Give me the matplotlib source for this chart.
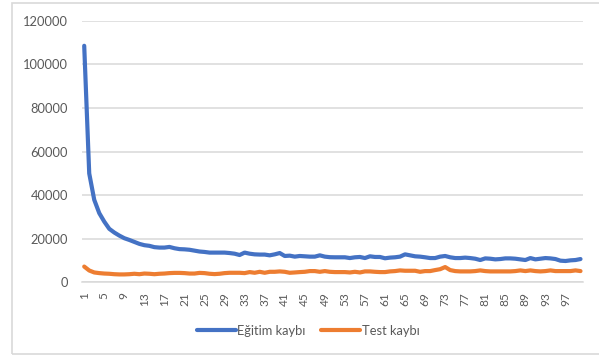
import matplotlib
matplotlib.use("Agg")
import matplotlib.pyplot as plt
from matplotlib.patches import Rectangle

plt.rcParams["font.family"] = ["Lato", "DejaVu Sans"]

epochs = list(range(1, 101))
egitim = [108500, 50000, 37900, 31800, 27900, 24600, 22900, 21500, 20300, 19500,
          18600, 17700, 17100, 16800, 16200, 16000, 16000, 16300, 15700, 15300,
          15200, 15000, 14600, 14200, 14000, 13700, 13700, 13700, 13700, 13500,
          13200, 12600, 13700, 13200, 12900, 12800, 12800, 12450, 12900, 13500,
          12150, 12300, 11850, 12150, 12000, 11850, 11850, 12450, 11850, 11600,
          11550, 11550, 11550, 11200, 11550, 11700, 11200, 12000, 11700, 11700,
          11100, 11400, 11550, 11850, 12900, 12450, 12000, 11850, 11550, 11200,
          11200, 11850, 12150, 11550, 11200, 11200, 11400, 11200, 10900, 10300,
          11050, 10900, 10600, 10750, 11050, 11050, 10900, 10600, 10300, 11200,
          10600, 10900, 11200, 11050, 10750, 10000, 9850, 10150, 10300, 10750]
test = [7300, 5500, 4600, 4300, 4100, 4000, 3800, 3700, 3700, 3800,
        4000, 3800, 4100, 4000, 3800, 4000, 4100, 4300, 4400, 4400,
        4300, 4100, 4100, 4400, 4300, 4000, 3850, 4000, 4300, 4450,
        4450, 4450, 4300, 4770, 4450, 4900, 4450, 4900, 4900, 5080,
        4900, 4450, 4600, 4770, 4900, 5230, 5230, 4900, 5230, 4900,
        4770, 4770, 4770, 4600, 4900, 4600, 5080, 5080, 4900, 4770,
        4770, 5080, 5230, 5540, 5380, 5380, 5380, 4900, 5230, 5230,
        5690, 6100, 7080, 5690, 5230, 5080, 5080, 5080, 5230, 5540,
        5230, 5080, 5080, 5080, 5080, 5080, 5230, 5540, 5230, 5540,
        5230, 5080, 5230, 5540, 5230, 5230, 5230, 5230, 5540, 5230]
yticks = [0, 20000, 40000, 60000, 80000, 100000, 120000]
xticks = list(range(1, 101, 4))

gray = "#595959"
fig = plt.figure(figsize=(5.99, 3.6), dpi=100)
ax = fig.add_axes([0.1364, 0.2153, 0.8369, 0.7272])

# chart border (cut off at the right edge like the screenshot)
fig.patches.append(Rectangle((12 / 599, 1 - 354 / 360), 1.0, 351 / 360,
                             transform=fig.transFigure, fill=False,
                             edgecolor="#D9D9D9", linewidth=1.2))

ax.plot(epochs, egitim, color="#4472C4", linewidth=3, label="Eğitim kaybı",
        solid_capstyle="round", zorder=3)
ax.plot(epochs, test, color="#ED7D31", linewidth=3, label="Test kaybı",
        solid_capstyle="round", zorder=3)

ax.set_xlim(0.5, 100.5)
ax.set_ylim(0, 120000)
ax.set_yticks(yticks)
ax.set_yticklabels([str(v) for v in yticks])
ax.set_xticks(xticks)
ax.set_xticklabels([str(v) for v in xticks], rotation=90)
ax.grid(axis="y", color="#D9D9D9", linewidth=1.1)
ax.set_axisbelow(True)
for s in ["top", "right", "left"]:
    ax.spines[s].set_visible(False)
ax.spines["bottom"].set_color("#D9D9D9")
ax.spines["bottom"].set_linewidth(1.1)
ax.tick_params(axis="y", length=0, pad=10, labelsize=9.3, labelcolor=gray)
ax.tick_params(axis="x", length=0, pad=7, labelsize=8.6, labelcolor=gray)

ax.legend(loc="center", bbox_to_anchor=(0.452, -0.185), ncol=2, frameon=False,
          fontsize=9.3, labelcolor=gray, handlelength=3.0, handletextpad=0.15,
          columnspacing=1.2)

fig.savefig("out.png", dpi=100)
